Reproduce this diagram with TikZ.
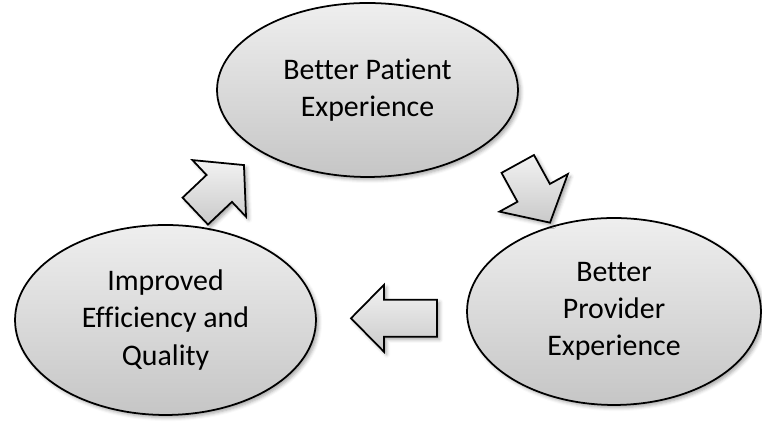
\documentclass[tikz,border=0pt]{standalone}
\usepackage{fontspec}
\setmainfont{Carlito}[Ligatures={NoCommon}]
\usetikzlibrary{shapes.geometric,shadows.blur}
\tikzset{
  pics/cyclearrow/.style args={#1/#2/#3}{code={
    \path[arrowbox] (-#1/2,-18.5) -- (#1/2-#2,-18.5) -- (#1/2-#2,-#3/2) -- (#1/2,0)
      -- (#1/2-#2,#3/2) -- (#1/2-#2,18.5) -- (-#1/2,18.5) -- cycle;
  }}
}
\begin{document}
\begin{tikzpicture}[x=0.02cm,y=0.02cm,
    stage/.style={ellipse,draw,line width=1pt,top color=gray!13,bottom color=gray!45,
      blur shadow={shadow xshift=1.5pt,shadow yshift=-1.5pt,shadow blur radius=2pt,shadow opacity=35},
      align=center,inner sep=0pt,font=\fontsize{17}{21.2}\selectfont},
    arrowbox/.style={draw,line width=1pt,line join=miter,top color=gray!10,bottom color=gray!42,
      blur shadow={shadow xshift=1.5pt,shadow yshift=-1.5pt,shadow blur radius=2pt,shadow opacity=35}}]
      \useasboundingbox (0,0) rectangle (762,425);

      \node[stage,minimum width=6.02cm,minimum height=3.48cm] (patient) at (367.5,335) {Better Patient\\Experience};
      \node[stage,minimum width=5.88cm,minimum height=3.74cm] (provider) at (614,113.5) {Better\\Provider\\Experience};
      \node[stage,minimum width=6.02cm,minimum height=3.8cm] (quality) at (165.5,105) {Improved\\Efficiency and\\Quality};

      \pic[rotate=-61.2] (toprovider) at (533.9,231.7) {cyclearrow=67/34/78};
      \pic[rotate=180] (toquality) at (394,106.7) {cyclearrow=86/33/67};
      \pic[rotate=43.4] (topatient) at (219.6,236.9) {cyclearrow=67/34/78};
    \end{tikzpicture}
\end{document}
